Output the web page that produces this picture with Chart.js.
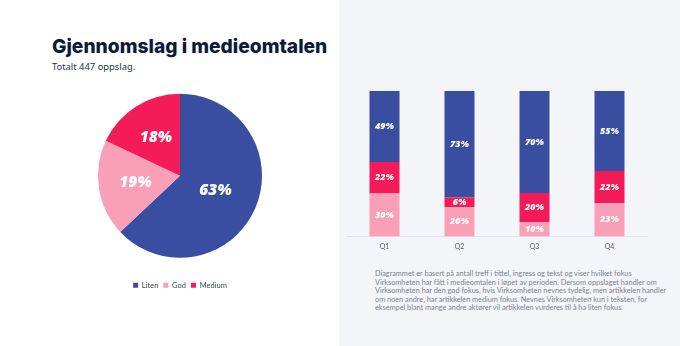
<!DOCTYPE html>
<html>
<head>
<meta charset="utf-8">
<script src="https://cdn.jsdelivr.net/npm/chart.js@4"></script>
<style>
    body { margin: 0; width: 680px; height: 346px; background: #ffffff; position: relative; overflow: hidden; font-family: Lato, sans-serif; }
    #panel { position: absolute; left: 339px; top: 0; width: 341px; height: 346px; background: #f4f5f9; }
    h1 { position: absolute; left: 52px; top: 34px; margin: 0; font-family: Inter, sans-serif; font-weight: 800; font-size: 19.2px; color: #0c1b3a; white-space: nowrap; }
    #sub { position: absolute; left: 52px; top: 60px; font-family: "Noto Sans", sans-serif; font-size: 9.4px; font-weight: 400; color: #24324f; }
    #pieBox { position: absolute; left: 80px; top: 75px; width: 200px; height: 230px; }
    #barBox { position: absolute; left: 340px; top: 80px; width: 340px; height: 180px; }
    #note { position: absolute; left: 375px; top: 270px; font-size: 7.3px; line-height: 8.5px; color: #7b8192; white-space: nowrap; }
</style>
</head>
<body>
<div id="panel"></div>
<h1>Gjennomslag i medieomtalen</h1>
<div id="sub">Totalt 447 oppslag.</div>
<div id="pieBox"><canvas id="pieChart"></canvas></div>
<div id="barBox"><canvas id="barChart"></canvas></div>
<div id="note">
Diagrammet er basert på antall treff i tittel, ingress og tekst og viser hvilket fokus<br>
Virksomheten har fått i medieomtalen i løpet av perioden. Dersom oppslaget handler om<br>
Virksomheten har den god fokus, hvis Virksomheten nevnes tydelig, men artikkelen handler<br>
om noen andre, har artikkelen medium fokus. Nevnes Virksomheten kun i teksten, for<br>
eksempel blant mange andre aktører vil artikkelen vurderes til å ha liten fokus.
</div>

<script>
const focusLabels = ["Liten", "God", "Medium"];
const totalShare = [63, 19, 18];

const quarters = ["Q1", "Q2", "Q3", "Q4"];
const godShare = [29.6, 20.4, 10, 23];
const mediumShare = [21.7, 6.4, 20, 22];
const litenShare = [48.7, 73.2, 70, 55];

const blue = "#394ea1";
const pink = "#f99fb8";
const red = "#f41c58";

Chart.defaults.font.family = "Lato, sans-serif";
Chart.defaults.animation = false;

// labels drawn inside the slices / bars
const pieLabels = {
    id: "pieLabels",
    afterDatasetsDraw(chart) {
        const ctx = chart.ctx;
        const meta = chart.getDatasetMeta(0);
        ctx.save();
        ctx.font = "italic 800 15.5px 'Open Sans'";
        ctx.fillStyle = "#ffffff";
        ctx.textAlign = "center";
        ctx.textBaseline = "middle";
        meta.data.forEach((arc, i) => {
            const mid = (arc.startAngle + arc.endAngle) / 2;
            const r = arc.outerRadius * (i === 0 ? 0.47 : 0.55);
            ctx.fillText(Math.round(chart.data.datasets[0].data[i]) + "%", arc.x + Math.cos(mid) * r, arc.y + Math.sin(mid) * r);
        });
        ctx.restore();
    }
};

const barLabels = {
    id: "barLabels",
    afterDatasetsDraw(chart) {
        const ctx = chart.ctx;
        ctx.save();
        ctx.font = "italic 800 9px 'Open Sans'";
        ctx.fillStyle = "#ffffff";
        ctx.textAlign = "center";
        ctx.textBaseline = "middle";
        chart.data.datasets.forEach((ds, d) => {
            chart.getDatasetMeta(d).data.forEach((bar, i) => {
                ctx.fillText(Math.round(ds.data[i]) + "%", bar.x, (bar.y + bar.base) / 2);
            });
        });
        ctx.restore();
    }
};

new Chart(document.getElementById("pieChart"), {
    type: "pie",
    data: {
        labels: focusLabels,
        datasets: [{
            data: totalShare,
            backgroundColor: [blue, pink, red],
            borderWidth: 0,
            radius: 82
        }]
    },
    options: {
        responsive: true,
        maintainAspectRatio: false,
        layout: { padding: { bottom: 6 } },
        plugins: {
            legend: {
                position: "bottom",
                labels: { boxWidth: 5, boxHeight: 5, padding: 5, color: "#3c4257", font: { size: 7.5 } }
            },
            tooltip: { enabled: false }
        }
    },
    plugins: [pieLabels]
});

new Chart(document.getElementById("barChart"), {
    type: "bar",
    data: {
        labels: quarters,
        datasets: [
            { label: "God", data: godShare, backgroundColor: pink },
            { label: "Medium", data: mediumShare, backgroundColor: red },
            { label: "Liten", data: litenShare, backgroundColor: blue }
        ]
    },
    options: {
        responsive: true,
        maintainAspectRatio: false,
        layout: { padding: { left: 7, right: 33, top: 11, bottom: 3 } },
        datasets: { bar: { categoryPercentage: 0.8, barPercentage: 0.5, borderWidth: 0 } },
        scales: {
            x: {
                stacked: true,
                grid: { display: false, drawTicks: false },
                border: { display: true, color: "#e1e4ec", width: 1 },
                ticks: { color: "#555b6b", font: { size: 7 }, padding: 6 }
            },
            y: { stacked: true, display: false, min: 0, max: 100 }
        },
        plugins: { legend: { display: false }, tooltip: { enabled: false } }
    },
    plugins: [barLabels]
});
</script>
</body>
</html>
